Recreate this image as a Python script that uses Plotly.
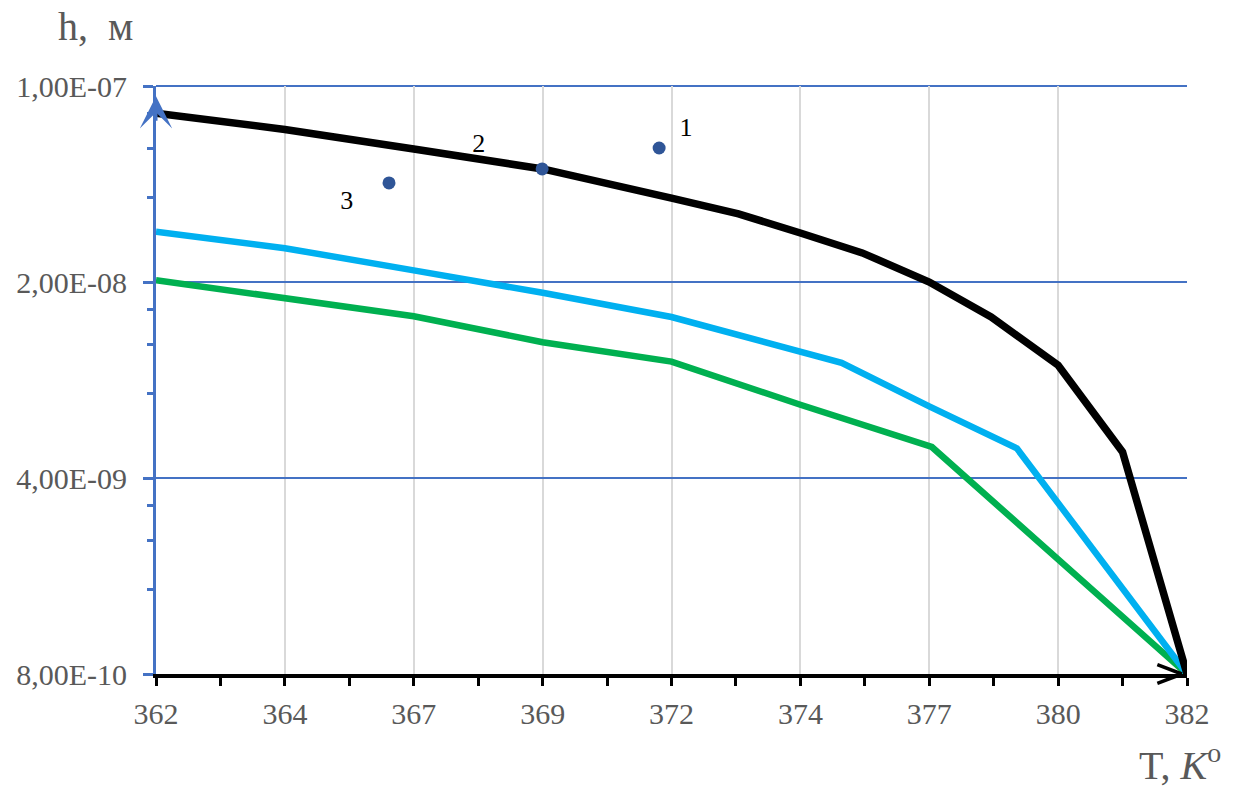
import plotly.graph_objects as go
import math

# ---- data ----
t_black = [362.0, 364.5, 367.0, 369.5, 372.0, 373.3, 374.5, 375.7, 377.0, 378.2, 379.5, 380.75, 382.0]
h_black = [8.0e-8, 7.0e-8, 5.96e-8, 5.06e-8, 3.98e-8, 3.5e-8, 2.99e-8, 2.54e-8, 2.0e-8, 1.5e-8, 1.01e-8, 4.95e-9, 8.0e-10]

t_blue = [362.0, 364.5, 367.0, 369.5, 372.0, 375.3, 377.0, 378.7, 382.0]
h_blue = [3.02e-8, 2.64e-8, 2.2e-8, 1.83e-8, 1.5e-8, 1.03e-8, 7.2e-9, 5.1e-9, 8.0e-10]

t_green = [362.0, 364.5, 367.0, 369.5, 372.0, 374.5, 377.05, 382.0]
h_green = [2.03e-8, 1.75e-8, 1.51e-8, 1.22e-8, 1.04e-8, 7.3e-9, 5.16e-9, 8.0e-10]

dot_t = [366.52, 369.49, 371.76]
dot_h = [4.51e-8, 5.06e-8, 6.01e-8]
label_text = ["3", "2", "1"]
label_t = [365.70, 368.26, 372.28]
label_h = [3.83e-8, 6.16e-8, 7.02e-8]

x_tickvals = [362, 364.5, 367, 369.5, 372, 374.5, 377, 379.5, 382]
x_ticktext = ["362", "364", "367", "369", "372", "374", "377", "380", "382"]
x_minor = [363.25, 365.75, 368.25, 370.75, 373.25, 375.75, 378.25, 380.75]

y_tickvals = [8e-10, 4e-9, 2e-8, 1e-7]
y_ticktext = ["8,00E-10", "4,00E-09", "2,00E-08", "1,00E-07"]
y_minor = [1.6e-9, 2.4e-9, 3.2e-9, 8e-9, 1.2e-8, 1.6e-8, 4e-8, 6e-8, 8e-8]

x_range = [362, 382]
y_range_vals = [8e-10, 1e-7]

FONT = "Liberation Serif, Times New Roman, serif"
GRAY = "#595959"
AXBLUE = "#4472C4"

fig = go.Figure()
fig.add_trace(go.Scatter(x=t_green, y=h_green, mode="lines",
                         line=dict(color="#00B050", width=6.5), hoverinfo="skip"))
fig.add_trace(go.Scatter(x=t_blue, y=h_blue, mode="lines",
                         line=dict(color="#00B0F0", width=6.5), hoverinfo="skip"))
fig.add_trace(go.Scatter(x=t_black, y=h_black, mode="lines",
                         line=dict(color="#000000", width=7.5), hoverinfo="skip"))
fig.add_trace(go.Scatter(x=dot_t, y=dot_h, mode="markers",
                         marker=dict(color="#2F5597", size=13, line=dict(width=0)),
                         hoverinfo="skip"))
fig.add_trace(go.Scatter(x=label_t, y=label_h, mode="text", text=label_text,
                         textfont=dict(family=FONT, size=26, color="#000000"),
                         textposition="middle center", hoverinfo="skip"))

fig.update_layout(
    width=1243, height=786,
    margin=dict(l=156, r=56, t=86, b=112),
    paper_bgcolor="white", plot_bgcolor="white",
    showlegend=False,
    font=dict(family=FONT, color=GRAY),
)

fig.update_xaxes(
    range=x_range, tickmode="array", tickvals=x_tickvals, ticktext=x_ticktext,
    tickfont=dict(family=FONT, size=30, color=GRAY),
    showgrid=True, gridcolor="#D9D9D9", gridwidth=2,
    showline=True, linecolor="#000000", linewidth=4,
    ticks="outside", ticklen=8, tickwidth=3, tickcolor="#000000",
    minor=dict(tickmode="array", tickvals=x_minor, ticks="outside", ticklen=8,
               tickwidth=3, tickcolor="#000000", showgrid=False),
    zeroline=False, ticklabelstandoff=2,
)
fig.update_yaxes(
    type="log", range=[math.log10(y_range_vals[0]), math.log10(y_range_vals[1])],
    tickmode="array", tickvals=y_tickvals, ticktext=y_ticktext,
    tickfont=dict(family=FONT, size=30, color=GRAY),
    showgrid=True, gridcolor=AXBLUE, gridwidth=2,
    showline=True, linecolor=AXBLUE, linewidth=3,
    ticks="outside", ticklen=10, tickwidth=3, tickcolor=AXBLUE,
    minor=dict(tickmode="array", tickvals=y_minor, ticks="outside", ticklen=6,
               tickwidth=3, tickcolor=AXBLUE, showgrid=False),
    zeroline=False, ticklabelstandoff=10,
)

# top border gridline (1e-7)
fig.add_shape(type="line", xref="paper", yref="paper", x0=0, x1=1, y0=1, y1=1,
              line=dict(color=AXBLUE, width=2), layer="below")

# axis arrows
fig.add_annotation(x=x_range[0], y=math.log10(9.2e-8), xref="x", yref="y",
                   ax=0, ay=26, text="", showarrow=True,
                   arrowhead=3, arrowsize=1.8, arrowwidth=3, arrowcolor=AXBLUE,
                   standoff=0)
for dy in (-10, 10):
    fig.add_annotation(x=381.9, y=math.log10(y_range_vals[0]), xref="x", yref="y",
                       ax=-26, ay=dy, text="", showarrow=True, arrowhead=0,
                       arrowwidth=3.5, arrowcolor="#000000")

# axis titles
fig.add_annotation(text="h,\u00a0\u00a0м", xref="paper", yref="paper",
                   x=(95 - 156) / 1031, y=(674 - 27) / 588, xanchor="center", yanchor="middle",
                   showarrow=False, font=dict(family=FONT, size=40, color=GRAY))
fig.add_annotation(text="T, <i>K</i><sup>o</sup>", xref="paper", yref="paper",
                   x=(1180 - 156) / 1031, y=(674 - 762) / 588, xanchor="center", yanchor="middle",
                   showarrow=False, font=dict(family=FONT, size=40, color=GRAY))

fig.write_html("out.html")
